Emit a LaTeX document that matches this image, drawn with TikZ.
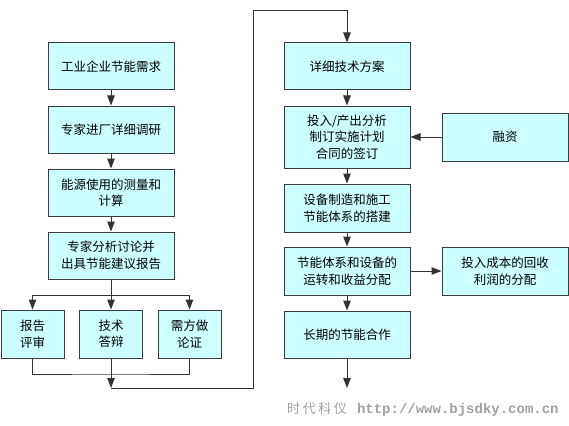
\documentclass[tikz,border=0pt]{standalone}
\usepackage{fontspec}
\setmainfont{Noto Sans CJK SC}
\newfontfamily\urlfont{Liberation Mono}
\newfontfamily\markcjk[LetterSpace=20]{Noto Sans CJK SC}
\usetikzlibrary{arrows.meta}
\definecolor{boxfill}{HTML}{CCFFFF}
\definecolor{boxline}{HTML}{3C3C3C}
\definecolor{linkgray}{HTML}{333333}
\definecolor{markgray}{HTML}{A0A0A0}
\tikzset{
  box/.style={draw=boxline, fill=boxfill, line width=1pt, minimum width=126pt,
    minimum height=47pt, align=center, inner sep=2pt,
    font=\fontsize{12.5}{16.5}\selectfont},
  smallbox/.style={box, minimum width=63pt, minimum height=48pt},
  link/.style={draw=linkgray, line width=1pt},
  arr/.style={link, -{Triangle[length=10pt,width=7.5pt]}}
}
\begin{document}
\begin{tikzpicture}[x=1pt,y=-1pt]
\useasboundingbox (0,0) rectangle (569,425);
% left column
\node[box] (need) at (111,66.5) {工业企业节能需求};
\node[box] (survey) at (111,129.5) {专家进厂详细调研};
\node[box] (measure) at (111,192.5) {能源使用的测量和\\计算};
\node[box] (report) at (111,255.5) {专家分析讨论并\\出具节能建议报告};
\node[smallbox] (review) at (32.5,334) {报告\\评审};
\node[smallbox] (defend) at (111,334) {技术\\答辩};
\node[smallbox] (argue) at (189.5,334) {需方做\\论证};
% right column
\node[box] (plan) at (347,66.5) {详细技术方案};
\node[box, minimum height=62pt] (contract) at (347,137) {投入/产出分析\\制订实施计划\\合同的签订};
\node[box, minimum height=48pt] (build) at (347,208) {设备制造和施工\\节能体系的搭建};
\node[box, minimum height=48pt] (run) at (347,271) {节能体系和设备的\\运转和收益分配};
\node[box] (coop) at (347,334.5) {长期的节能合作};
\node[box, minimum height=48pt] (fund) at (505,137) {融资};
\node[box, minimum height=48pt] (payback) at (505,271) {投入成本的回收\\利润的分配};
% joints
\coordinate (split) at (111,295);
\coordinate (merge) at (111,374);
\coordinate (turn) at (111,388);
\coordinate (loopB) at (253,388);
\coordinate (loopT) at (253,11);
\coordinate (tail) at (347,388);
% connectors
\draw[arr] (need) -- (survey);
\draw[arr] (survey) -- (measure);
\draw[arr] (measure) -- (report);
\draw[link] (report) -- (split);
\draw[arr] (split) -| (review.north);
\draw[arr] (split) -- (defend);
\draw[arr] (split) -| (argue.north);
\draw[link] (review.south) |- (merge) -| (argue.south);
\draw[arr] (defend) -- (turn);
\draw[arr] (turn) -- (loopB) -- (loopT) -| (plan.north);
\draw[arr] (plan) -- (contract);
\draw[arr] (fund) -- (contract);
\draw[arr] (contract) -- (build);
\draw[arr] (build) -- (run);
\draw[arr] (run) -- (payback);
\draw[arr] (run) -- (coop);
\draw[arr] (coop) -- (tail);
% watermark
\node[text=markgray, anchor=base west, inner sep=0pt] (mark) at (287,413)
  {{\markcjk\fontsize{13}{13}\selectfont 时代科仪}\hspace{10pt}{\urlfont\bfseries\fontsize{14}{14}\selectfont http://www.bjsdky.com.cn}};
\end{tikzpicture}
\end{document}
